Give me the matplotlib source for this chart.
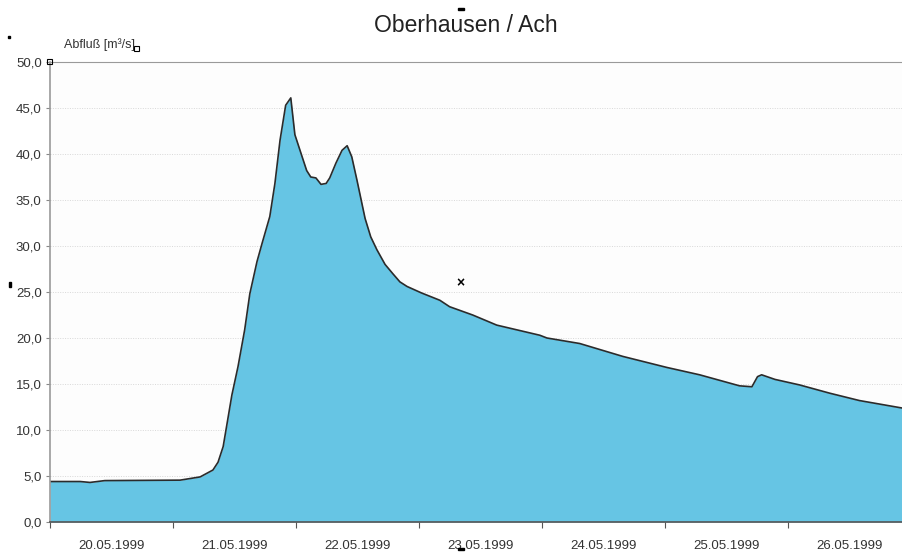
import numpy as np
import pandas as pd
import matplotlib
matplotlib.use("Agg")
from matplotlib import pyplot as plt
import matplotlib.dates as mdates

plt.rcParams["font.family"] = ["Liberation Sans", "DejaVu Sans"]

# hours after 20.05.1999 00:00 and discharge in m3/s
hours = [0.0, 5.9, 7.8, 10.7, 25.4, 29.3, 31.8, 32.8, 33.8, 34.5, 35.5, 36.7,
         38.0, 39.0, 40.4, 41.4, 42.9, 43.9, 44.9, 46.0, 47.0, 47.8, 48.8,
         50.1, 50.9, 51.9, 52.9, 53.9, 54.6, 55.8, 57.0, 58.0, 58.9, 59.9,
         61.5, 62.6, 63.8, 65.4, 66.9, 68.3, 69.7, 72.5, 76.1, 78.0, 82.5,
         87.2, 95.6, 97.0, 103.4, 111.8, 120.4, 126.8, 134.6, 137.0, 138.1,
         138.9, 141.5, 146.3, 152.2, 158.0, 166.2]
abfluss = [4.4, 4.4, 4.3, 4.5, 4.55, 4.9, 5.65, 6.5, 8.2, 10.5, 13.8, 16.9,
           20.9, 24.8, 28.3, 30.3, 33.2, 36.8, 41.5, 45.3, 46.1, 42.1, 40.4,
           38.2, 37.5, 37.4, 36.7, 36.8, 37.4, 39.0, 40.4, 40.9, 39.7, 37.2,
           33.0, 31.0, 29.6, 28.0, 27.0, 26.1, 25.6, 24.9, 24.1, 23.4, 22.5,
           21.4, 20.3, 20.0, 19.4, 18.0, 16.8, 16.0, 14.8, 14.7, 15.8,
           16.0, 15.5, 14.9, 14.0, 13.2, 12.4]
start = "1999-05-20"
y_ticks = [0, 5, 10, 15, 20, 25, 30, 35, 40, 45, 50]

t0 = pd.Timestamp(start)
t = t0 + pd.to_timedelta(hours, unit="h")

fig = plt.figure(figsize=(9.02, 5.56), dpi=100)
ax = fig.add_axes([50/902, 34/556, 852/902, 460/556])

ax.fill_between(t, abfluss, 0, color="#66c5e4", linewidth=0)
ax.plot(t, abfluss, color="#2b2b2b", linewidth=1.2)

ax.set_xlim(t0, t0 + pd.Timedelta(hours=166.3))
ax.set_ylim(0, 50)

ax.set_yticks(y_ticks)
ax.set_yticklabels([f"{v:.1f}".replace(".", ",") for v in y_ticks],
                   fontsize=9.5, color="#333333")
for v in y_ticks[1:-1]:
    ax.axhline(v, color="#d8d8d8", linestyle=(0, (1, 1.5)), linewidth=0.7, zorder=0)

# day boundaries as ticks, day labels at noon
ax.xaxis.set_major_locator(mdates.DayLocator())
ax.xaxis.set_major_formatter(plt.NullFormatter())
ax.xaxis.set_minor_locator(mdates.HourLocator(byhour=[12]))
ax.xaxis.set_minor_formatter(mdates.DateFormatter("%d.%m.%Y"))
ax.tick_params(axis="x", which="major", length=4, color="#555555")
ax.tick_params(axis="x", which="minor", length=0, pad=13, labelsize=9.5,
               labelcolor="#333333")
ax.tick_params(axis="y", length=3, color="#888888", pad=3)

ax.set_facecolor("#fdfdfd")
ax.spines["right"].set_visible(False)
ax.spines["top"].set_color("#9a9a9a")
ax.spines["left"].set_color("#9a9a9a")
ax.spines["bottom"].set_color("#555555")
ax.spines["left"].set_linewidth(1.2)
ax.spines["bottom"].set_linewidth(1.2)

fig.text(466/902, 1 - 26/556, "Oberhausen / Ach", ha="center", va="center",
         fontsize=16.5, color="#222222")
fig.text(64/902, 1 - 45/556, "Abfluß [m³/s]", ha="left", va="center",
         fontsize=9, color="#333333")

# selection handles visible in the original
fig.text(460/902, 1 - 283/556, "×", ha="center", va="center", fontsize=10,
         fontweight="bold")
for px, py in [(49, 62), (136, 49)]:
    fig.patches.append(plt.Rectangle((px/902 - 2/902, 1 - py/556 - 2/556),
                                     5/902, 5/556, transform=fig.transFigure,
                                     fill=False, edgecolor="black", linewidth=0.8))
for px, py, w, h in [(458, 8, 6, 1.5), (458, 548, 6, 2), (9, 282, 1.5, 5), (8, 36, 2, 2)]:
    fig.patches.append(plt.Rectangle((px/902, 1 - (py + h)/556), w/902, h/556,
                                     transform=fig.transFigure, color="black"))

fig.savefig("out.png", dpi=100)
